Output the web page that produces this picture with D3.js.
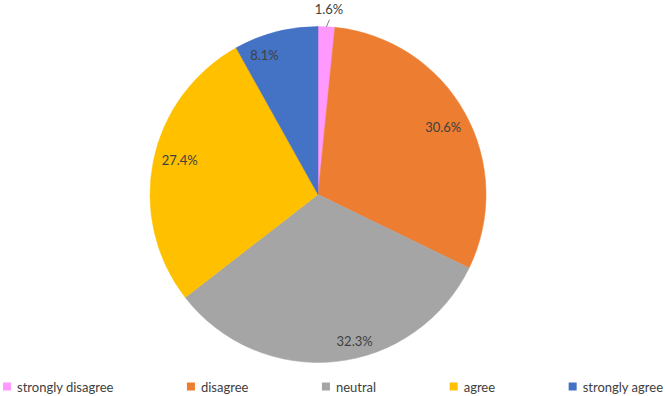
<!DOCTYPE html>
<html><head><meta charset="utf-8">
<script src="https://cdn.jsdelivr.net/npm/d3@7"></script>
<style>html,body{margin:0;padding:0;background:#fff;}svg{display:block;}</style>
</head><body><svg id="c" width="665" height="396"></svg>
<script>
const categories = ["strongly disagree", "disagree", "neutral", "agree", "strongly agree"];
const values = [1.6, 30.6, 32.3, 27.4, 8.1];
const colors = ["#FF99FF", "#ED7D31", "#A5A5A5", "#FFC000", "#4472C4"];
// label nudges (dx, dy) relative to the radial anchor
const labelNudge = [[0, 0], [2, 1], [22, 6], [0, -6], [-18, -3]];

const W = 665, H = 396;
const cx = 318, cy = 194.5, R = 168;
const font = "Lato, 'Open Sans', sans-serif";
const svg = d3.select("#c");

const pie = d3.pie().sort(null).value(d => d)(values);
const arc = d3.arc().innerRadius(0).outerRadius(R);
const g = svg.append("g").attr("transform", `translate(${cx},${cy})`);

g.selectAll("path").data(pie).join("path")
  .attr("d", arc)
  .attr("fill", (d, i) => colors[i])
  .attr("stroke", (d, i) => colors[i])
  .attr("stroke-width", 0.5);

const fmt = v => v.toFixed(1) + "%";
const labR = R * 0.84;
pie.forEach((d, i) => {
  const a = (d.startAngle + d.endAngle) / 2;
  if (i === 0) {
    const p0 = [R * Math.sin(a), -R * Math.cos(a)];
    const p1 = [p0[0] + 3, p0[1] - 7];
    g.append("line").attr("x1", p0[0]).attr("y1", p0[1]).attr("x2", p1[0]).attr("y2", p1[1])
      .attr("stroke", "#808080").attr("stroke-width", 1);
    g.append("text").attr("x", p1[0] - 0.5).attr("y", p1[1] - 10.5)
      .attr("text-anchor", "middle").attr("dominant-baseline", "central")
      .attr("font-family", font).attr("font-size", 13).attr("fill", "#404040")
      .text(fmt(values[i]));
  } else {
    const x = labR * Math.sin(a) + labelNudge[i][0];
    const y = -labR * Math.cos(a) + labelNudge[i][1];
    g.append("text").attr("x", x).attr("y", y)
      .attr("text-anchor", "middle").attr("dominant-baseline", "central")
      .attr("font-family", font).attr("font-size", 13).attr("fill", "#404040")
      .text(fmt(values[i]));
  }
});

// legend: evenly spaced across width
const leg = svg.append("g");
const sq = 8, gapText = 6, left = 3, right = 663, ly = 386.5;
const items = leg.selectAll("g").data(categories).join("g");
items.append("text").text(d => d)
  .attr("font-family", font).attr("font-size", 13).attr("fill", "#404040")
  .attr("dominant-baseline", "central").attr("y", ly);
const widths = [];
items.select("text").each(function () { widths.push(this.getComputedTextLength()); });
const itemW = widths.map(w => sq + gapText + w);
const total = d3.sum(itemW);
const gap = (right - left - total) / (categories.length - 1);
let x = left;
items.each(function (d, i) {
  const it = d3.select(this);
  it.insert("rect", "text").attr("x", x).attr("y", ly - sq / 2).attr("width", sq).attr("height", sq)
    .attr("fill", colors[i]);
  it.select("text").attr("x", x + sq + gapText);
  x += itemW[i] + gap;
});
</script></body></html>
